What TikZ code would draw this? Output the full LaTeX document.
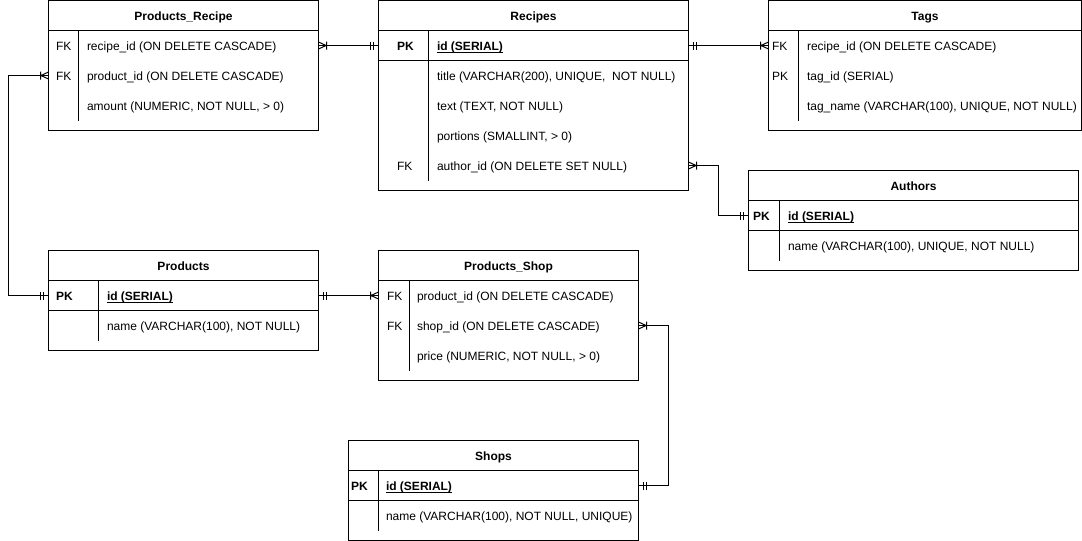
\documentclass[tikz,border=0pt]{standalone}
\usepackage{fontspec}
\setmainfont{Liberation Sans}
\newcommand{\ft}{\fontsize{12pt}{14pt}\selectfont}
\newsavebox{\ulbox}
\newcommand{\pkul}[1]{\sbox\ulbox{#1}\rlap{\rule[-1.6pt]{\wd\ulbox}{0.8pt}}\usebox\ulbox}
\tikzset{
  tbl/.style={draw, line width=1pt, anchor=north west, inner sep=0pt, outer sep=0pt},
  hdr/.style={font=\ft\bfseries, text height=12pt, text depth=1.4pt, inner sep=0pt},
  fld/.style={font=\ft, anchor=west, text height=12pt, text depth=1.4pt, inner sep=0pt},
  fldb/.style={fld, font=\ft\bfseries},
  crow/.pic={\draw[line width=1pt] (0,3.5) -- (7.5,0) -- (0,-3.5) (8,4) -- (8,-4);},
  dbar/.pic={\draw[line width=1pt] (5,4) -- (5,-4) (8,4) -- (8,-4);}
}
\begin{document}
\begin{tikzpicture}[x=1pt, y={(0pt,-1pt)}, line width=1pt]
\useasboundingbox (-0.5,-0.5) rectangle (1081.5,540.5);

% Products_Recipe
\node[tbl, minimum width=270pt, minimum height=130pt] (pr) at (48,0) {};
\draw (48,30) -- (318,30);
\draw (78,30) -- (78,120);
\node[hdr] (pr-h) at (183,15) {Products\_Recipe};
\node[fld] (pr-k1) at (55,45) {FK};
\node[fld] (pr-f1) at (86,45) {recipe\_id (ON DELETE CASCADE)};
\node[fld] (pr-k2) at (55,75) {FK};
\node[fld] (pr-f2) at (86,75) {product\_id (ON DELETE CASCADE)};
\node[fld] (pr-f3) at (86,105) {amount (NUMERIC, NOT NULL, > 0)};

% Recipes
\node[tbl, minimum width=310pt, minimum height=190pt] (rc) at (378,0) {};
\draw (378,30) -- (688,30);
\draw (378,60) -- (688,60);
\draw (428,30) -- (428,180);
\node[hdr] (rc-h) at (533,15) {Recipes};
\node[fldb] (rc-k1) at (396,45) {PK};
\node[fldb] (rc-f1) at (436,45) {\pkul{id (SERIAL)}};
\node[fld] (rc-f2) at (436,75) {title (VARCHAR(200), UNIQUE,\ \ NOT NULL)};
\node[fld] (rc-f3) at (436,105) {text (TEXT, NOT NULL)};
\node[fld] (rc-f4) at (436,135) {portions (SMALLINT, > 0)};
\node[fld] (rc-k5) at (396,165) {FK};
\node[fld] (rc-f5) at (436,165) {author\_id (ON DELETE SET NULL)};

% Tags
\node[tbl, minimum width=313pt, minimum height=130pt] (tg) at (768,0) {};
\draw (768,30) -- (1081,30);
\draw (798,30) -- (798,120);
\node[hdr] (tg-h) at (924.5,15) {Tags};
\node[fld] (tg-k1) at (771,45) {FK};
\node[fld] (tg-f1) at (806,45) {recipe\_id (ON DELETE CASCADE)};
\node[fld] (tg-k2) at (771,75) {PK};
\node[fld] (tg-f2) at (806,75) {tag\_id (SERIAL)};
\node[fld] (tg-f3) at (806,105) {tag\_name (VARCHAR(100), UNIQUE, NOT NULL)};

% Authors
\node[tbl, minimum width=330pt, minimum height=100pt] (au) at (748,170) {};
\draw (748,200) -- (1078,200);
\draw (748,230) -- (1078,230);
\draw (779,200) -- (779,260);
\node[hdr] (au-h) at (913,185) {Authors};
\node[fldb] (au-k1) at (752,215) {PK};
\node[fldb] (au-f1) at (787,215) {\pkul{id (SERIAL)}};
\node[fld] (au-f2) at (787,245) {name (VARCHAR(100), UNIQUE, NOT NULL)};

% Products
\node[tbl, minimum width=270pt, minimum height=100pt] (pd) at (48,250) {};
\draw (48,280) -- (318,280);
\draw (48,310) -- (318,310);
\draw (98,280) -- (98,340);
\node[hdr] (pd-h) at (183,265) {Products};
\node[fldb] (pd-k1) at (55,295) {PK};
\node[fldb] (pd-f1) at (106,295) {\pkul{id (SERIAL)}};
\node[fld] (pd-f2) at (106,325) {name (VARCHAR(100), NOT NULL)};

% Products_Shop
\node[tbl, minimum width=260pt, minimum height=130pt] (ps) at (378,250) {};
\draw (378,280) -- (638,280);
\draw (409,280) -- (409,370);
\node[hdr] (ps-h) at (508,265) {Products\_Shop};
\node[fld] (ps-k1) at (386,295) {FK};
\node[fld] (ps-f1) at (416,295) {product\_id (ON DELETE CASCADE)};
\node[fld] (ps-k2) at (386,325) {FK};
\node[fld] (ps-f2) at (416,325) {shop\_id (ON DELETE CASCADE)};
\node[fld] (ps-f3) at (416,355) {price (NUMERIC, NOT NULL, > 0)};

% Shops
\node[tbl, minimum width=290pt, minimum height=100pt] (sh) at (348,440) {};
\draw (348,470) -- (638,470);
\draw (348,500) -- (638,500);
\draw (378,470) -- (378,530);
\node[hdr] (sh-h) at (493,455) {Shops};
\node[fldb] (sh-k1) at (350,485) {PK};
\node[fldb] (sh-f1) at (385,485) {\pkul{id (SERIAL)}};
\node[fld] (sh-f2) at (385,515) {name (VARCHAR(100), NOT NULL, UNIQUE)};

% Connectors
\draw (pr.east |- pr-k1) -- (rc.west |- rc-k1);
\path (pr.east |- pr-k1) pic {crow};
\path (rc.west |- rc-k1) pic[rotate=180] {dbar};

\draw (pr.west |- pr-k2) -- ++(-40,0) |- (pd.west |- pd-k1);
\path (pr.west |- pr-k2) pic[rotate=180] {crow};
\path (pd.west |- pd-k1) pic[rotate=180] {dbar};

\draw (rc.east |- rc-k1) -- (tg.west |- tg-k1);
\path (rc.east |- rc-k1) pic {dbar};
\path (tg.west |- tg-k1) pic[rotate=180] {crow};

\draw (rc.east |- rc-k5) -- ++(30,0) |- (au.west |- au-k1);
\path (rc.east |- rc-k5) pic {crow};
\path (au.west |- au-k1) pic[rotate=180] {dbar};

\draw (pd.east |- pd-k1) -- (ps.west |- ps-k1);
\path (pd.east |- pd-k1) pic {dbar};
\path (ps.west |- ps-k1) pic[rotate=180] {crow};

\draw (ps.east |- ps-k2) -- ++(30,0) |- (sh.east |- sh-k1);
\path (ps.east |- ps-k2) pic {crow};
\path (sh.east |- sh-k1) pic {dbar};
\end{tikzpicture}
\end{document}
